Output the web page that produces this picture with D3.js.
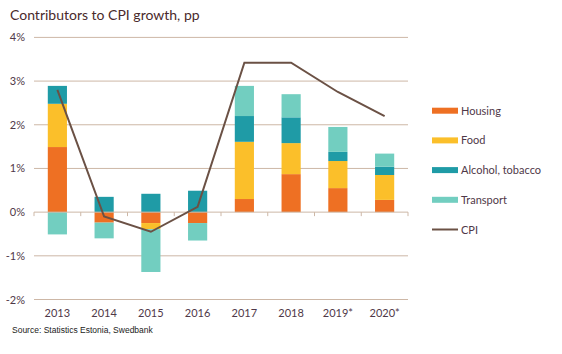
<!DOCTYPE html>
<html>
<head>
<meta charset="utf-8">
<script src="https://cdn.jsdelivr.net/npm/d3@7"></script>
<style>
  body { margin: 0; background: #fff; }
  text { font-family: Lato, "Open Sans", sans-serif; }
</style>
</head>
<body>
<div id="chart"></div>
<script>
const width = 562;
const height = 354;

// data
const years = ["2013", "2014", "2015", "2016", "2017", "2018", "2019*", "2020*"];
const housing = [1.49, -0.24, -0.25, -0.25, 0.30, 0.87, 0.55, 0.28];
const food = [0.99, 0.0, -0.14, 0.0, 1.31, 0.71, 0.62, 0.57];
const alcohol = [0.41, 0.35, 0.42, 0.49, 0.59, 0.59, 0.21, 0.19];
const transport = [-0.51, -0.36, -0.98, -0.40, 0.69, 0.53, 0.57, 0.30];
const cpi = [2.8, -0.1, -0.45, 0.12, 3.42, 3.42, 2.75, 2.2];
const yTicks = [-2, -1, 0, 1, 2, 3, 4];

const seriesNames = ["Housing", "Food", "Alcohol, tobacco", "Transport"];
const seriesValues = [housing, food, alcohol, transport];
const colors = ["#ee7023", "#fbbf2a", "#1f9ba6", "#72cec0"];
const cpiColor = "#6b5145";
const gridColor = "#cdb7a6";
const textColor = "#4f3848";

const margin = { left: 34, right: 154, top: 37.4, bottom: 54.5 };

const svg = d3.select("#chart").append("svg")
  .attr("width", width)
  .attr("height", height);

svg.append("text")
  .attr("x", 10)
  .attr("y", 20)
  .style("font-size", "14px")
  .attr("fill", "#4a2a2c")
  .text("Contributors to CPI growth, pp");

const x = d3.scaleBand()
  .domain(years)
  .range([margin.left, width - margin.right])
  .paddingInner(0.59)
  .paddingOuter(0.295);

const xEdge = d3.scaleLinear()
  .domain([0, years.length])
  .range([margin.left, width - margin.right]);

const y = d3.scaleLinear()
  .domain([-2, 4])
  .range([height - margin.bottom, margin.top]);

// grid lines
svg.append("g")
  .selectAll("line")
  .data(yTicks.filter(d => d !== 0))
  .enter()
  .append("line")
  .attr("x1", margin.left)
  .attr("x2", width - margin.right)
  .attr("y1", d => y(d))
  .attr("y2", d => y(d))
  .attr("stroke", gridColor)
  .attr("stroke-width", 1);

// y labels
svg.append("g")
  .selectAll("text")
  .data(yTicks)
  .enter()
  .append("text")
  .attr("x", 25)
  .attr("y", d => y(d) + 4)
  .attr("text-anchor", "end")
  .style("font-size", "11px")
  .attr("fill", textColor)
  .text(d => d + "%");

// stacked bars, positives up, negatives down
years.forEach((yr, i) => {
  let pos = 0;
  let neg = 0;
  seriesValues.forEach((vals, s) => {
    const v = vals[i];
    if (v === 0) return;
    let y0, y1;
    if (v > 0) { y0 = pos; y1 = pos + v; pos = y1; }
    else { y0 = neg; y1 = neg + v; neg = y1; }
    svg.append("rect")
      .attr("x", x(yr))
      .attr("width", x.bandwidth())
      .attr("y", y(Math.max(y0, y1)))
      .attr("height", Math.abs(y(y0) - y(y1)))
      .attr("fill", colors[s]);
  });
});

// zero axis with ticks
const axisG = svg.append("g");
axisG.append("line")
  .attr("x1", margin.left)
  .attr("x2", width - margin.right)
  .attr("y1", y(0))
  .attr("y2", y(0))
  .attr("stroke", gridColor)
  .attr("stroke-width", 1);
axisG.selectAll(".tick")
  .data(d3.range(years.length + 1))
  .enter()
  .append("line")
  .attr("x1", d => xEdge(d))
  .attr("x2", d => xEdge(d))
  .attr("y1", y(0))
  .attr("y2", y(0) + 4)
  .attr("stroke", gridColor)
  .attr("stroke-width", 1);

// x labels
svg.append("g")
  .selectAll("text")
  .data(years)
  .enter()
  .append("text")
  .attr("x", d => x(d) + x.bandwidth() / 2)
  .attr("y", 317)
  .attr("text-anchor", "middle")
  .style("font-size", "11px")
  .attr("fill", textColor)
  .text(d => d);

// CPI line
const line = d3.line()
  .x((d, i) => x(years[i]) + x.bandwidth() / 2)
  .y(d => y(d));

svg.append("path")
  .datum(cpi)
  .attr("d", line)
  .attr("fill", "none")
  .attr("stroke", cpiColor)
  .attr("stroke-width", 2);

// legend
const legend = svg.append("g");
const legendY = [110.7, 140.4, 170.1, 199.8, 229.5];
seriesNames.forEach((name, i) => {
  legend.append("rect")
    .attr("x", 432)
    .attr("y", legendY[i] - 3)
    .attr("width", 26)
    .attr("height", 6)
    .attr("fill", colors[i]);
  legend.append("text")
    .attr("x", 461)
    .attr("y", legendY[i] + 4)
    .style("font-size", "11px")
    .attr("fill", textColor)
    .text(name);
});
legend.append("line")
  .attr("x1", 432)
  .attr("x2", 458)
  .attr("y1", legendY[4])
  .attr("y2", legendY[4])
  .attr("stroke", cpiColor)
  .attr("stroke-width", 2);
legend.append("text")
  .attr("x", 461)
  .attr("y", legendY[4] + 4)
  .style("font-size", "11px")
  .attr("fill", textColor)
  .text("CPI");

svg.append("text")
  .attr("x", 12)
  .attr("y", 333)
  .style("font-family", "'Liberation Sans', Arial, sans-serif")
  .style("font-size", "8.5px")
  .attr("fill", "#222")
  .text("Source: Statistics Estonia, Swedbank");
</script>
</body>
</html>
